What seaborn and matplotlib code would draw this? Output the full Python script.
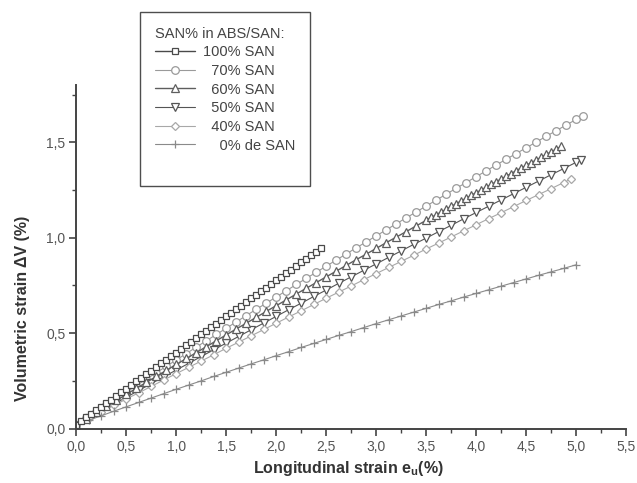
import numpy as np
import pandas as pd
import matplotlib
matplotlib.use("Agg")
import matplotlib.pyplot as plt
from matplotlib.lines import Line2D
import seaborn as sns
from matplotlib.ticker import MultipleLocator, FuncFormatter

# ---------------- data ----------------
x_100 = [0.0, 0.05, 0.1, 0.15, 0.2, 0.25, 0.3, 0.35, 0.4, 0.45, 0.5, 0.55, 0.6, 0.65, 0.7, 0.75,
         0.8, 0.85, 0.9, 0.95, 1.0, 1.05, 1.1, 1.15, 1.2, 1.25, 1.3, 1.35, 1.4, 1.45, 1.5, 1.55,
         1.6, 1.65, 1.7, 1.75, 1.8, 1.85, 1.9, 1.95, 2.0, 2.05, 2.1, 2.15, 2.2, 2.25, 2.3, 2.35,
         2.4, 2.45]
y_100 = [0.020, 0.039, 0.058, 0.077, 0.096, 0.115, 0.133, 0.152, 0.171, 0.190, 0.209, 0.228,
         0.247, 0.266, 0.285, 0.304, 0.322, 0.341, 0.360, 0.379, 0.398, 0.417, 0.436, 0.455,
         0.474, 0.493, 0.511, 0.530, 0.549, 0.568, 0.587, 0.606, 0.625, 0.644, 0.663, 0.682,
         0.700, 0.719, 0.738, 0.757, 0.776, 0.795, 0.814, 0.833, 0.852, 0.871, 0.889, 0.908,
         0.927, 0.946]

x_70 = [0.0, 0.1, 0.2, 0.3, 0.4, 0.5, 0.6, 0.7, 0.8, 0.9, 1.0, 1.1, 1.2, 1.3, 1.4, 1.5, 1.6,
        1.7, 1.8, 1.9, 2.0, 2.1, 2.2, 2.3, 2.4, 2.5, 2.6, 2.7, 2.8, 2.9, 3.0, 3.1, 3.2, 3.3,
        3.4, 3.5, 3.6, 3.7, 3.8, 3.9, 4.0, 4.1, 4.2, 4.3, 4.4, 4.5, 4.6, 4.7, 4.8, 4.9, 5.0,
        5.07]
y_70 = [0.020, 0.054, 0.089, 0.123, 0.157, 0.191, 0.225, 0.259, 0.293, 0.326, 0.360, 0.393,
        0.427, 0.460, 0.493, 0.526, 0.559, 0.592, 0.625, 0.657, 0.690, 0.722, 0.755, 0.787,
        0.819, 0.851, 0.883, 0.915, 0.947, 0.978, 1.010, 1.041, 1.073, 1.104, 1.135, 1.166,
        1.197, 1.228, 1.259, 1.289, 1.320, 1.350, 1.381, 1.411, 1.441, 1.471, 1.501, 1.531,
        1.561, 1.590, 1.620, 1.636]

x_60 = [0.0, 0.1, 0.2, 0.3, 0.4, 0.5, 0.6, 0.7, 0.8, 0.9, 1.0, 1.1, 1.2, 1.3, 1.4, 1.5, 1.6,
        1.7, 1.8, 1.9, 2.0, 2.1, 2.2, 2.3, 2.4, 2.5, 2.6, 2.7, 2.8, 2.9, 3.0, 3.1, 3.2, 3.3,
        3.4, 3.5, 3.55, 3.6, 3.65, 3.7, 3.75, 3.8, 3.85, 3.9, 3.95, 4.0, 4.05, 4.1, 4.15, 4.2,
        4.25, 4.3, 4.35, 4.4, 4.45, 4.5, 4.55, 4.6, 4.65, 4.7, 4.75, 4.8, 4.85]
y_60 = [0.020, 0.052, 0.084, 0.116, 0.147, 0.179, 0.211, 0.242, 0.273, 0.305, 0.336, 0.367,
        0.398, 0.429, 0.460, 0.491, 0.522, 0.552, 0.583, 0.614, 0.644, 0.674, 0.705, 0.735,
        0.765, 0.795, 0.825, 0.855, 0.885, 0.914, 0.944, 0.974, 1.003, 1.032, 1.062, 1.091,
        1.106, 1.120, 1.135, 1.149, 1.164, 1.178, 1.193, 1.207, 1.222, 1.236, 1.250, 1.265,
        1.279, 1.293, 1.308, 1.322, 1.336, 1.351, 1.365, 1.379, 1.393, 1.407, 1.422, 1.436,
        1.450, 1.464, 1.478]

x_50 = [0.0, 0.125, 0.25, 0.375, 0.5, 0.625, 0.75, 0.875, 1.0, 1.125, 1.25, 1.375, 1.5, 1.625,
        1.75, 1.875, 2.0, 2.125, 2.25, 2.375, 2.5, 2.625, 2.75, 2.875, 3.0, 3.125, 3.25, 3.375,
        3.5, 3.625, 3.75, 3.875, 4.0, 4.125, 4.25, 4.375, 4.5, 4.625, 4.75, 4.875, 5.0, 5.05]
y_50 = [0.020, 0.056, 0.092, 0.128, 0.164, 0.200, 0.236, 0.271, 0.307, 0.342, 0.378, 0.413,
        0.448, 0.483, 0.518, 0.553, 0.588, 0.623, 0.657, 0.692, 0.726, 0.761, 0.795, 0.829,
        0.863, 0.897, 0.931, 0.965, 0.998, 1.032, 1.065, 1.099, 1.132, 1.165, 1.198, 1.231,
        1.264, 1.297, 1.330, 1.362, 1.395, 1.408]

x_40 = [0.0, 0.125, 0.25, 0.375, 0.5, 0.625, 0.75, 0.875, 1.0, 1.125, 1.25, 1.375, 1.5, 1.625,
        1.75, 1.875, 2.0, 2.125, 2.25, 2.375, 2.5, 2.625, 2.75, 2.875, 3.0, 3.125, 3.25, 3.375,
        3.5, 3.625, 3.75, 3.875, 4.0, 4.125, 4.25, 4.375, 4.5, 4.625, 4.75, 4.875, 4.95]
y_40 = [0.020, 0.054, 0.087, 0.121, 0.155, 0.188, 0.221, 0.255, 0.288, 0.321, 0.354, 0.387,
        0.421, 0.453, 0.486, 0.519, 0.552, 0.585, 0.617, 0.650, 0.683, 0.715, 0.747, 0.780,
        0.812, 0.844, 0.876, 0.908, 0.941, 0.972, 1.004, 1.036, 1.068, 1.100, 1.131, 1.163,
        1.195, 1.226, 1.257, 1.289, 1.308]

x_0 = [0.0, 0.125, 0.25, 0.375, 0.5, 0.625, 0.75, 0.875, 1.0, 1.125, 1.25, 1.375, 1.5, 1.625,
       1.75, 1.875, 2.0, 2.125, 2.25, 2.375, 2.5, 2.625, 2.75, 2.875, 3.0, 3.125, 3.25, 3.375,
       3.5, 3.625, 3.75, 3.875, 4.0, 4.125, 4.25, 4.375, 4.5, 4.625, 4.75, 4.875, 5.0]
y_0 = [0.020, 0.044, 0.067, 0.091, 0.114, 0.137, 0.160, 0.183, 0.206, 0.228, 0.250, 0.273,
       0.295, 0.317, 0.339, 0.360, 0.382, 0.403, 0.425, 0.446, 0.467, 0.488, 0.508, 0.529,
       0.550, 0.570, 0.590, 0.610, 0.630, 0.650, 0.669, 0.689, 0.708, 0.727, 0.746, 0.765,
       0.784, 0.803, 0.821, 0.839, 0.858]

series_labels = ["100% SAN", "  70% SAN", "  60% SAN", "  50% SAN", "  40% SAN", "    0% de SAN"]
legend_title = "SAN% in ABS/SAN:"
x_ticks = [0.0, 0.5, 1.0, 1.5, 2.0, 2.5, 3.0, 3.5, 4.0, 4.5, 5.0, 5.5]
y_ticks = [0.0, 0.5, 1.0, 1.5]

# ---------------- styling ----------------
sns.set_style("ticks")
plt.rcParams['font.family'] = ['Liberation Sans', 'DejaVu Sans']
plt.rcParams['mathtext.fontset'] = 'custom'
plt.rcParams['mathtext.rm'] = 'Liberation Sans'
plt.rcParams['mathtext.bf'] = 'Liberation Sans:bold'

fig = plt.figure(figsize=(6.37, 4.83), dpi=100)
ax = fig.add_axes([0.120, 0.1128, 0.863, 0.7112])

data = [(x_100, y_100), (x_70, y_70), (x_60, y_60), (x_50, y_50), (x_40, y_40), (x_0, y_0)]
markers = ["s", "o", "^", "v", "D", "+"]
msizes = [4.5, 5.5, 5.5, 6.0, 4.5, 6.0]
colors = ["#4a4a4a", "#9a9a9a", "#5e5e5e", "#555555", "#a8a8a8", "#8a8a8a"]
lws = [1.0, 0.8, 1.0, 0.8, 0.8, 0.8]

order = [1, 3, 4, 5, 2, 0]
lines = {}
for i in order:
    xs, ys = data[i]
    df = pd.DataFrame({"x": xs, "y": ys})
    sns.lineplot(data=df, x="x", y="y", ax=ax, sort=False, estimator=None,
                 color=colors[i], lw=lws[i], marker=markers[i], markersize=msizes[i],
                 markerfacecolor="white" if markers[i] != "+" else colors[i],
                 markeredgecolor=colors[i], markeredgewidth=0.9, label=series_labels[i],
                 legend=False)
    lines[i] = ax.get_lines()[-1]

ax.set_xlim(0, 5.5)
ax.set_ylim(0, 1.8)
ax.xaxis.set_major_locator(plt.FixedLocator(x_ticks))
ax.yaxis.set_major_locator(plt.FixedLocator(y_ticks))
ax.xaxis.set_minor_locator(MultipleLocator(0.25))
ax.yaxis.set_minor_locator(MultipleLocator(0.25))
comma = FuncFormatter(lambda v, p: f"{v:.1f}".replace(".", ","))
ax.xaxis.set_major_formatter(comma)
ax.yaxis.set_major_formatter(comma)

for s in ["top", "right"]:
    ax.spines[s].set_visible(False)
for s in ["left", "bottom"]:
    ax.spines[s].set_color("#444444")
    ax.spines[s].set_linewidth(1.4)
ax.tick_params(axis="both", which="major", direction="out", length=5, width=1.2,
               color="#444444", labelsize=10, labelcolor="#555555", pad=3)
ax.tick_params(axis="both", which="minor", direction="out", length=3, width=1.0,
               color="#444444")

ax.set_xlabel(r"Longitudinal strain e$_\mathbf{u}$(%)", fontsize=11.5, fontweight="bold",
              color="#333333")
ax.set_ylabel("Volumetric strain ΔV (%)", fontsize=11.5, fontweight="bold", color="#333333")
ax.xaxis.set_label_coords(0.495, -0.09)
ax.yaxis.set_label_coords(-0.085, 0.35)

handles = [lines[i] for i in range(6)] + [Line2D([], [], color="none")]
labels = series_labels + [" "]
leg = fig.legend(handles, labels, title=legend_title, loc="upper left",
                 bbox_to_anchor=(140 / 637, 1 - 12 / 483), bbox_transform=fig.transFigure,
                 borderaxespad=0.0, frameon=True, fancybox=False, edgecolor="#222222",
                 fontsize=10.5, title_fontsize=10.5, handlelength=2.8, labelspacing=0.32,
                 borderpad=1.0, handletextpad=0.5, alignment="left")
leg.get_frame().set_linewidth(1.0)
for t in leg.get_texts():
    t.set_color("#444444")
leg.get_title().set_color("#444444")

fig.savefig("out.png", dpi=100)
